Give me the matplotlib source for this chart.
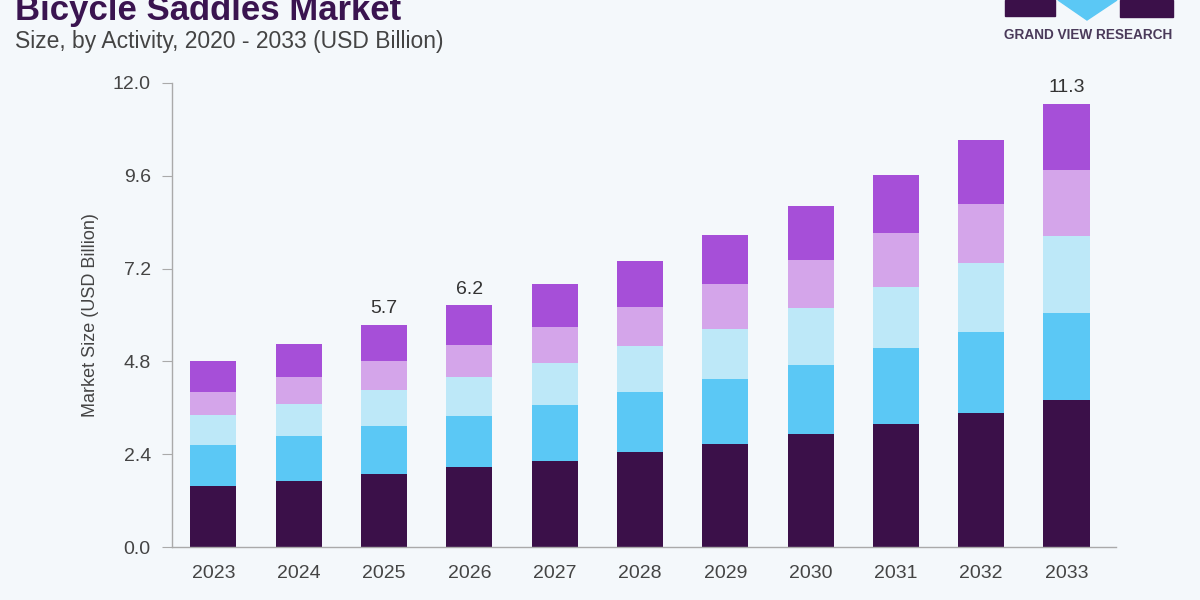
import matplotlib.pyplot as plt
from matplotlib.patches import Rectangle, Polygon
from matplotlib.lines import Line2D

years = ['2023', '2024', '2025', '2026', '2027', '2028', '2029', '2030', '2031', '2032', '2033']
activities = ['Road Bikes', 'Mountain Bikes', 'Hybrid Bikes', 'E-bikes', 'Others']
road = [1.59, 1.72, 1.90, 2.06, 2.23, 2.45, 2.66, 2.92, 3.19, 3.48, 3.80]
mountain = [1.06, 1.16, 1.22, 1.32, 1.44, 1.55, 1.68, 1.79, 1.95, 2.09, 2.26]
hybrid = [0.76, 0.83, 0.93, 1.01, 1.10, 1.19, 1.31, 1.47, 1.59, 1.77, 1.97]
ebikes = [0.59, 0.68, 0.76, 0.84, 0.92, 1.01, 1.14, 1.24, 1.38, 1.54, 1.71]
others = [0.82, 0.86, 0.94, 1.02, 1.10, 1.19, 1.29, 1.39, 1.51, 1.65, 1.72]
total_labels = {'2025': '5.7', '2026': '6.2', '2033': '11.3'}
yticks = [0.0, 2.4, 4.8, 7.2, 9.6, 12.0]

colors = ['#3b1049', '#5bc8f5', '#bde8f8', '#d4a5ea', '#a64fd8']
bg = '#f4f8fb'

plt.rcParams['font.family'] = ['Liberation Sans', 'DejaVu Sans']

fig = plt.figure(figsize=(12, 6), dpi=100, facecolor=bg)
ax = fig.add_axes([0.143, 0.088, 0.787, 0.774], facecolor=bg)

series = [road, mountain, hybrid, ebikes, others]
x = list(range(len(years)))
bottom = [0.0] * len(years)
for name, vals, c in zip(activities, series, colors):
    ax.bar(x, vals, width=0.54, bottom=bottom, color=c, label=name, edgecolor='none')
    bottom = [b + v for b, v in zip(bottom, vals)]

for i, yr in enumerate(years):
    if yr in total_labels:
        ax.text(i, bottom[i] + 0.2, total_labels[yr], ha='center', va='bottom',
                fontsize=14, color='#333333')

ax.set_xlim(-0.49, 10.58)
ax.set_ylim(0, 12)
ax.set_xticks(x)
ax.set_xticklabels(years)
ax.set_yticks(yticks)
ax.set_yticklabels(['%.1f' % t for t in yticks])
ax.tick_params(axis='x', length=0, labelsize=14, labelcolor='#444444', pad=13)
ax.tick_params(axis='y', length=7, width=0.8, color='#aaaaaa', labelsize=14,
               labelcolor='#444444', pad=8)
for s in ['top', 'right']:
    ax.spines[s].set_visible(False)
for s in ['left', 'bottom']:
    ax.spines[s].set_color('#aaaaaa')
    ax.spines[s].set_linewidth(1)
ax.set_ylabel('Market Size (USD Billion)', fontsize=13, color='#444444', labelpad=10)

fig.text(0.0125, 0.967, 'Bicycle Saddles Market', fontsize=25, fontweight='bold',
         color='#3a1450', ha='left', va='baseline')
fig.text(0.0125, 0.931, 'Size, by Activity, 2020 - 2033 (USD Billion)', fontsize=16.5,
         color='#444444', ha='left', va='center')

# logo
fig.patches.append(Rectangle((1005 / 1200, 1 - 16 / 600), 50 / 1200, 16 / 600,
                             transform=fig.transFigure, color='#3b1049'))
fig.patches.append(Rectangle((1120 / 1200, 1 - 17 / 600), 53 / 1200, 17 / 600,
                             transform=fig.transFigure, color='#3b1049'))
fig.patches.append(Polygon([(1058 / 1200, 1.0), (1117 / 1200, 1.0), (1087 / 1200, 1 - 20 / 600)],
                           closed=True, transform=fig.transFigure, color='#5bc8f5'))
fig.text(1088 / 1200, 1 - 35 / 600, 'GRAND VIEW RESEARCH', fontsize=9.8, fontweight='bold',
         color='#4a3a5a', ha='center', va='center')

# legend (cut off at the bottom edge, as in the original image)
handles = [Line2D([], [], linestyle='none', marker='o', markersize=8, color=c) for c in colors]
fig.legend(handles, activities, loc='upper center', bbox_to_anchor=(0.493, 0.027), ncol=5,
           frameon=False, fontsize=12.5, handlelength=1, handletextpad=0.8, columnspacing=2.2,
           labelcolor='#555555')

fig.savefig('out.png', dpi=100, facecolor=bg)
